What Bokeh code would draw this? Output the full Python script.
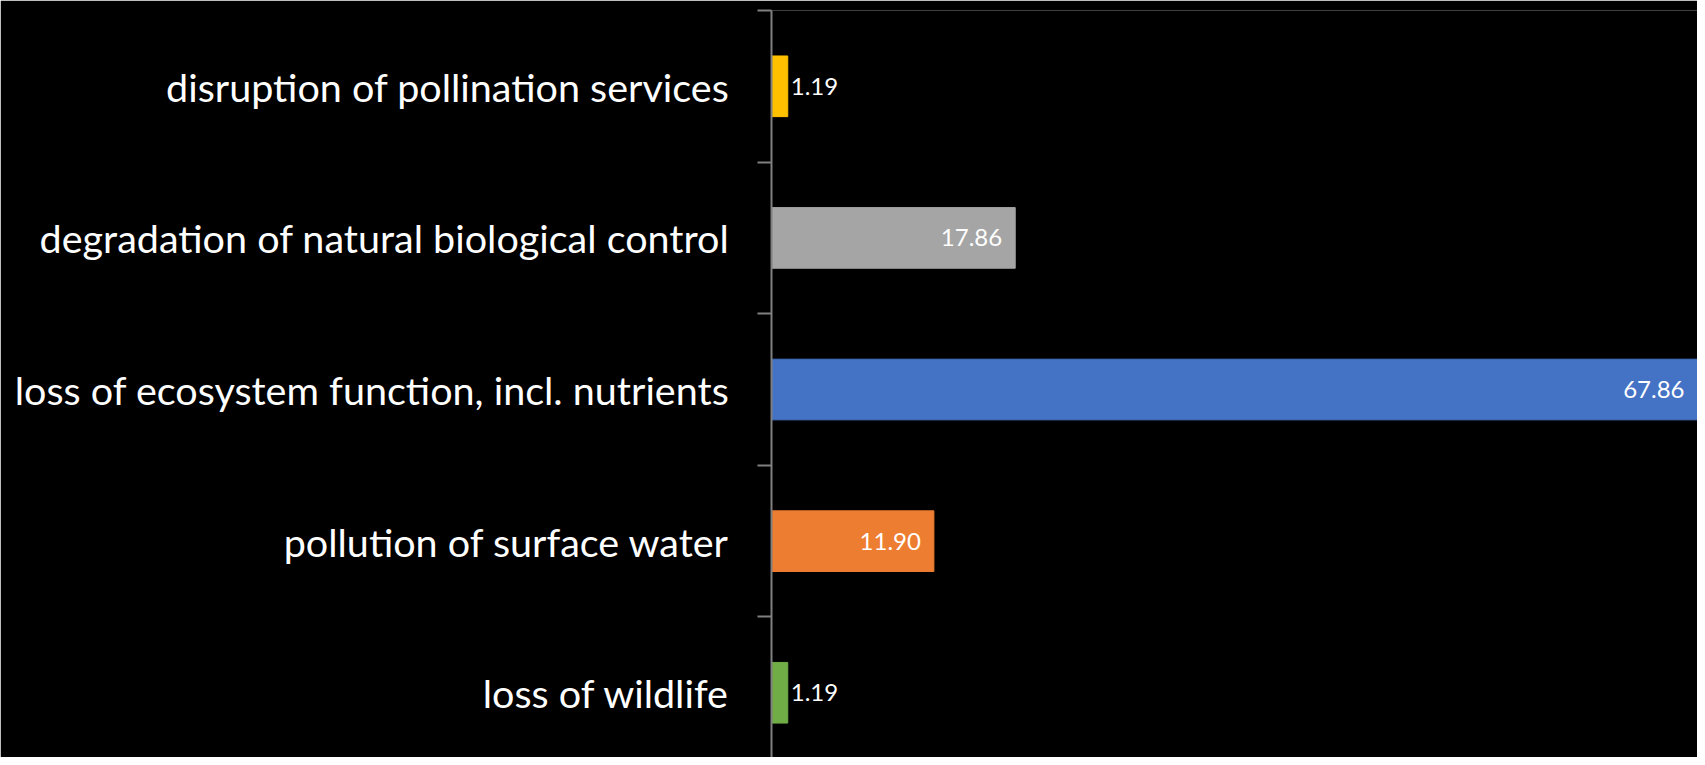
from bokeh.plotting import figure
from bokeh.models import ColumnDataSource, FixedTicker, Range1d
from bokeh.core.properties import value
from bokeh.embed import file_html
from bokeh.resources import INLINE

categories = ["loss of wildlife", "pollution of surface water",
              "loss of ecosystem function, incl. nutrients",
              "degradation of natural biological control",
              "disruption of pollination services"]
values = [1.19, 11.90, 67.86, 17.86, 1.19]
colors = ["#70AD47", "#ED7D31", "#4472C4", "#A5A5A5", "#FFC000"]
value_labels = ["%.2f" % v for v in values]

n = len(categories)
ypos = list(range(n))
align = ["left" if v < 5 else "right" for v in values]
xoff = [3 if v < 5 else -13 for v in values]

src = ColumnDataSource(dict(y=ypos, v=values, c=colors, lab=value_labels,
                            align=align, xoff=xoff))

p = figure(width=1697, height=757, output_backend="svg", toolbar_location=None,
           x_range=Range1d(0, 67.86), y_range=Range1d(-0.427, n - 0.5),
           min_border_left=771, min_border_right=0, min_border_top=10,
           min_border_bottom=0)
p.background_fill_color = "black"
p.border_fill_color = "black"
p.outline_line_color = None
p.grid.visible = False
p.xaxis.visible = False

p.hbar(y="y", right="v", left=0, height=0.40, color="c", source=src)
p.text(x="v", y="y", text="lab", text_align="align", x_offset="xoff",
       text_baseline="middle", text_color="white", text_font=value("Lato"),
       text_font_size="24px", source=src)

yax = p.yaxis[0]
yax.ticker = FixedTicker(ticks=ypos, minor_ticks=[i - 0.5 for i in range(n + 1)])
yax.major_label_overrides = {i: c for i, c in enumerate(categories)}
yax.major_tick_out = 0
yax.major_tick_in = 0
yax.minor_tick_out = 14
yax.minor_tick_in = 0
yax.minor_tick_line_color = "#808080"
yax.axis_line_color = "#808080"
yax.minor_tick_line_width = 2
yax.axis_line_width = 2
yax.major_label_text_color = "white"
yax.major_label_text_font = "Lato"
yax.major_label_text_font_size = "39.5px"
yax.major_label_standoff = 28

open("out.html", "w").write(file_html(p, INLINE))
